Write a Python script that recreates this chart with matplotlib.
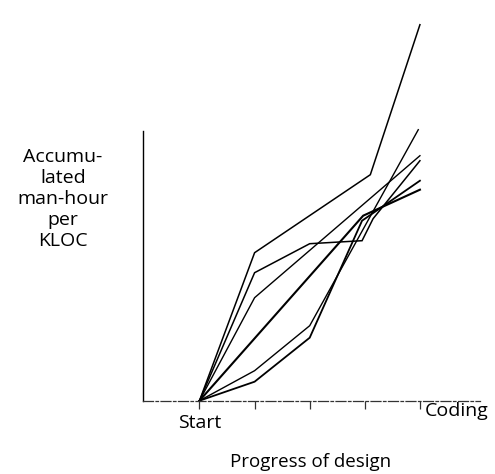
import matplotlib.pyplot as plt

# progress of design: 0 = Start ... 4 = Coding
# accumulated man-hour per KLOC (no scale on the original, arbitrary units)
proj_a_x = [0, 1, 3.1, 4.0]
proj_a_y = [0, 148, 226, 376]

proj_b_x = [0, 1, 2, 2.95, 3.15, 4.0]
proj_b_y = [0, 128, 157, 160, 182, 240]

proj_c_x = [0, 1, 4.0]
proj_c_y = [0, 103, 245]

proj_d_x = [0, 2.97, 4.0]
proj_d_y = [0, 185, 211]

proj_e_x = [0, 1, 2, 3.97]
proj_e_y = [0, 30, 75, 271]

proj_f_x = [0, 1, 2, 2.95, 4.0]
proj_f_y = [0, 19, 63, 180, 220]

proyectos = [
    (proj_a_x, proj_a_y, 1.1),
    (proj_b_x, proj_b_y, 1.1),
    (proj_c_x, proj_c_y, 1.0),
    (proj_d_x, proj_d_y, 1.5),
    (proj_e_x, proj_e_y, 1.0),
    (proj_f_x, proj_f_y, 1.3),
]

tick_pos = [0, 1, 2, 3, 4]

fuente = ['Open Sans', 'DejaVu Sans']

fig = plt.figure(figsize=(4.95, 4.74), dpi=100)
ax = fig.add_axes([143 / 495, 73.3 / 474, 337 / 495, 380 / 474])

for xs, ys, grosor in proyectos:
    ax.plot(xs, ys, color='black', lw=grosor, solid_joinstyle='miter', clip_on=False)

ax.set_xlim(-1.025, 5.09)
ax.set_ylim(0, 380)

# ejes
ax.spines['top'].set_visible(False)
ax.spines['right'].set_visible(False)
ax.spines['left'].set_bounds(0, 270)
ax.spines['left'].set_linewidth(1.0)
ax.spines['bottom'].set_linewidth(0.9)
ax.spines['bottom'].set_linestyle((0, (8, 2, 2, 2)))
ax.spines['bottom'].set_color('#333333')

ax.set_xticks(tick_pos)
ax.set_xticklabels([])
ax.set_yticks([])
ax.tick_params(axis='x', direction='out', length=6, width=0.9, color='#333333')

# etiquetas
ax.text(0, -13, 'Start', ha='center', va='top', fontsize=14, family=fuente)
ax.text(4.08, -1, 'Coding', ha='left', va='top', fontsize=14, family=fuente)
fig.text(311 / 495, 1 - 462 / 474, 'Progress of design', ha='center', va='center',
         fontsize=13.5, family=fuente)
fig.text(63 / 495, 1 - 199 / 474, 'Accumu-\nlated\nman-hour\nper\nKLOC', ha='center',
         va='center', fontsize=14, linespacing=1.22, family=fuente)

fig.savefig('out.png', dpi=100)
